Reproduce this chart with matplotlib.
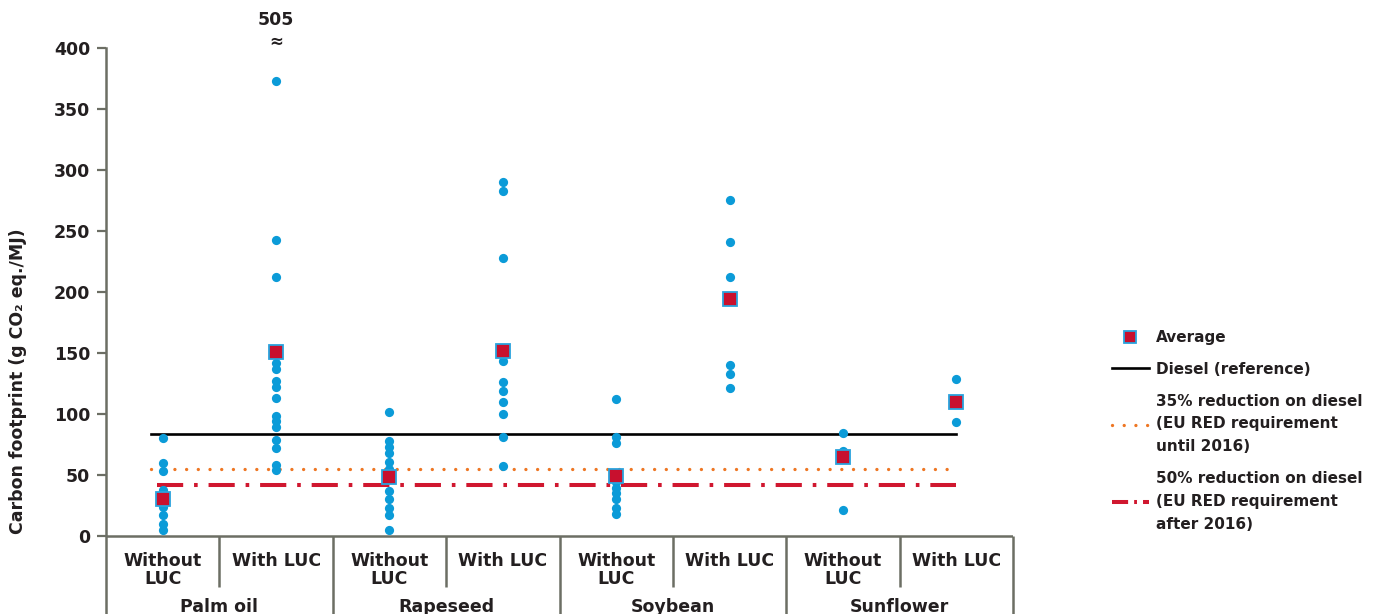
import numpy as np
import matplotlib.pyplot as plt
from matplotlib.lines import Line2D

# dados
groups = ['Palm oil', 'Rapeseed', 'Soybean', 'Sunflower']
sub_labels = ['Without\nLUC', 'With LUC'] * 4

palm_wo = [80, 60, 53, 38, 24, 17, 10, 5]
palm_w = [505, 373, 243, 212, 142, 137, 127, 122, 113, 98, 94, 89, 79, 72, 58, 54]
rape_wo = [102, 78, 73, 68, 61, 55, 37, 30, 23, 17, 5]
rape_w = [290, 283, 228, 143, 126, 119, 110, 100, 81, 57]
soy_wo = [112, 81, 76, 44, 39, 35, 30, 23, 18]
soy_w = [275, 241, 212, 140, 133, 121]
sun_wo = [84, 70, 21]
sun_w = [129, 93]
averages = [30, 151, 48, 152, 49, 194.5, 64.5, 109.5]

diesel = 83.8
red_35 = diesel * 0.65
red_50 = diesel * 0.50

series = [palm_wo, palm_w, rape_wo, rape_w, soy_wo, soy_w, sun_wo, sun_w]

blue = '#0b9bd8'
red = '#c8102e'
orange = '#ee7623'
redline = '#d0172f'
gray = '#6c6e64'
txt = '#231f20'

plt.rcParams['font.family'] = 'DejaVu Sans'
plt.rcParams['font.weight'] = 'bold'

fig = plt.figure(figsize=(13.86, 6.14), dpi=100)
ax = fig.add_axes([106 / 1386, 0, 907 / 1386, 566 / 614])
ax.set_xlim(-0.5, 7.5)
ax.set_ylim(-64, 400)

# linhas de referência
ax.plot([-0.1, 7.0], [diesel, diesel], color='black', lw=1.9, zorder=2)
ax.plot([-0.1, 7.0], [red_35, red_35], color=orange, lw=2.4, dashes=(0.01, 3.5),
        dash_capstyle='round', zorder=2)
ax.plot([-0.05, 7.0], [red_50, red_50], color=redline, lw=2.9,
        dashes=(6.5, 2.7, 0.9, 2.7), zorder=2)

# pontos individuais
for i, vals in enumerate(series):
    vals = np.array(vals)
    shown = vals[vals <= 400]
    ax.scatter(np.full(len(shown), i), shown, s=44, color=blue, lw=0, zorder=3)
    for v in vals[vals > 400]:
        ax.text(i, 423, f'{v:.0f}', ha='center', va='center', fontsize=12.5,
                color=txt, clip_on=False)
        ax.text(i, 405, '≈', ha='center', va='center', fontsize=12,
                color=txt, clip_on=False)

ax.plot(range(len(averages)), averages, ls='none', marker='s', ms=9.5,
        mfc=red, mec='#2aa3dd', mew=1.3, zorder=4)

# eixos
for s in ['top', 'right', 'bottom']:
    ax.spines[s].set_visible(False)
ax.spines['left'].set_color(gray)
ax.spines['left'].set_linewidth(1.8)
ax.set_xticks([])
ax.set_yticks(np.arange(0, 401, 50))
ax.tick_params(axis='y', length=6.5, width=1.6, color=gray, labelsize=12.5,
               labelcolor=txt, pad=5)
ax.axhline(0, color=gray, lw=1.8, zorder=1)
ax.vlines([0.5, 2.5, 4.5, 6.5], -42, 0, color=gray, lw=1.8)
ax.vlines([1.5, 3.5, 5.5, 7.5], -64, 0, color=gray, lw=1.8, clip_on=False)

for i, lab in enumerate(sub_labels):
    ax.text(i, -13, lab, ha='center', va='top', fontsize=12.5, color=txt,
            linespacing=1.05)
for g, name in enumerate(groups):
    ax.text(2 * g + 0.5, -51, name, ha='center', va='top', fontsize=12.5,
            color=txt)

fig.text(18 / 1386, 1 - 381 / 614, 'Carbon footprint (g CO₂ eq./MJ)', rotation=90,
         ha='center', va='center', fontsize=12.5, color=txt)

handles = [
    Line2D([], [], ls='none', marker='s', ms=9, mfc=red, mec='#2aa3dd', mew=1.3),
    Line2D([], [], color='black', lw=1.9),
    Line2D([], [], color=orange, lw=2.4, dashes=(0.01, 3.5), dash_capstyle='round'),
    Line2D([], [], color=redline, lw=2.9, dashes=(4, 1.5, 0.7, 1.5)),
]
labels = ['Average', 'Diesel (reference)',
          '35% reduction on diesel\n(EU RED requirement\nuntil 2016)',
          '50% reduction on diesel\n(EU RED requirement\nafter 2016)']
leg = ax.legend(handles, labels, loc='upper left', bbox_to_anchor=(1112 / 1386, 1 - 330 / 614),
                bbox_transform=fig.transFigure, frameon=False, fontsize=11,
                handlelength=2.4, handletextpad=0.5, labelspacing=1.1,
                borderaxespad=0, borderpad=0)
for t in leg.get_texts():
    t.set_color(txt)
    t.set_linespacing(1.65)

fig.savefig('out.png', dpi=100)
